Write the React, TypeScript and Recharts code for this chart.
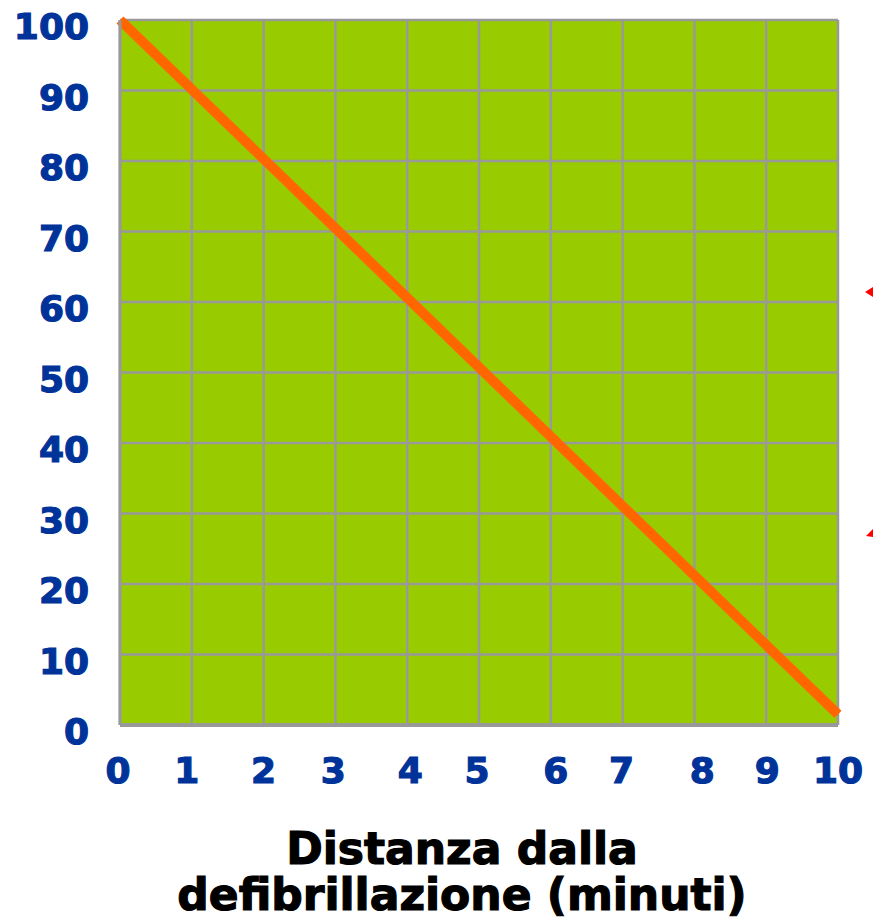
import React from "react";
import { LineChart, Line, XAxis, YAxis, CartesianGrid } from "recharts";

const MINUTES = [0, 10];
const SURVIVAL = [100, 1.5];
const X_TICKS = [0, 1, 2, 3, 4, 5, 6, 7, 8, 9, 10];
const Y_TICKS = [0, 10, 20, 30, 40, 50, 60, 70, 80, 90, 100];
const TITLE_LINES = ["Distanza dalla", "defibrillazione (minuti)"];

// small hand nudges of the x labels, as in the original slide
const X_TICK_NUDGE = [-2, -5, 0, -2, 3, -2, 5, -1, 8, 1, 0];

const data = MINUTES.map((m, i) => ({ m, v: SURVIVAL[i] }));

const FONT = "'DejaVu Sans', Verdana, sans-serif";
const BLUE = "#003399";

const XTick = (props: any) => {
  const { x, y, payload, index } = props;
  return (
    <text
      x={x + (X_TICK_NUDGE[index] ?? 0)}
      y={y + 56}
      textAnchor="middle"
      fill={BLUE}
      stroke={BLUE}
      strokeWidth={1.2}
      fontFamily={FONT}
      fontWeight="bold"
      fontSize={36}
    >
      {payload.value}
    </text>
  );
};

const YTick = (props: any) => {
  const { y, payload } = props;
  return (
    <text
      x={89}
      y={y + 19}
      textAnchor="end"
      fill={BLUE}
      stroke={BLUE}
      strokeWidth={1.2}
      fontFamily={FONT}
      fontWeight="bold"
      fontSize={36}
    >
      {payload.value}
    </text>
  );
};

const Title = (props: any) => {
  const vb = props.viewBox || {};
  const cx = vb.x + vb.width / 2 - 17;
  return (
    <text
      textAnchor="middle"
      fill="#000"
      stroke="#000"
      strokeWidth={1.2}
      fontFamily={FONT}
      fontWeight="bold"
      fontSize={44}
    >
      <tspan x={cx} y={864}>{TITLE_LINES[0]}</tspan>
      <tspan x={cx} y={910}>{TITLE_LINES[1]}</tspan>
    </text>
  );
};

export default function App() {
  return (
    <div style={{ position: "absolute", left: 0, top: 0, width: 873, height: 922, background: "#fff" }}>
      <LineChart
        width={873}
        height={922}
        data={data}
        margin={{ top: 20, right: 35, left: 0, bottom: 0 }}
      >
        <CartesianGrid
          fill="#99CC00"
          fillOpacity={1}
          stroke="#999999"
          strokeWidth={2.5}
          horizontalValues={Y_TICKS}
          verticalValues={X_TICKS}
        />
        <XAxis
          dataKey="m"
          type="number"
          domain={[0, 10]}
          ticks={X_TICKS}
          interval={0}
          height={197}
          tickLine={false}
          tickSize={0}
          axisLine={{ stroke: "#999999", strokeWidth: 4 }}
          tick={<XTick />}
          label={<Title />}
        />
        <YAxis
          type="number"
          domain={[0, 100]}
          ticks={Y_TICKS}
          interval={0}
          width={120}
          tickLine={false}
          tickSize={0}
          axisLine={{ stroke: "#999999", strokeWidth: 3 }}
          tick={<YTick />}
        />
        <Line
          dataKey="v"
          stroke="#FF6600"
          strokeWidth={10}
          dot={false}
          activeDot={false}
          isAnimationActive={false}
        />
      </LineChart>
      <svg
        width={873}
        height={922}
        style={{ position: "absolute", left: 0, top: 0, pointerEvents: "none" }}
      >
        <polygon points="865,292 873,287 873,297" fill="#FF0000" />
        <polygon points="866,536 873,529 873,537" fill="#FF0000" />
      </svg>
    </div>
  );
}
